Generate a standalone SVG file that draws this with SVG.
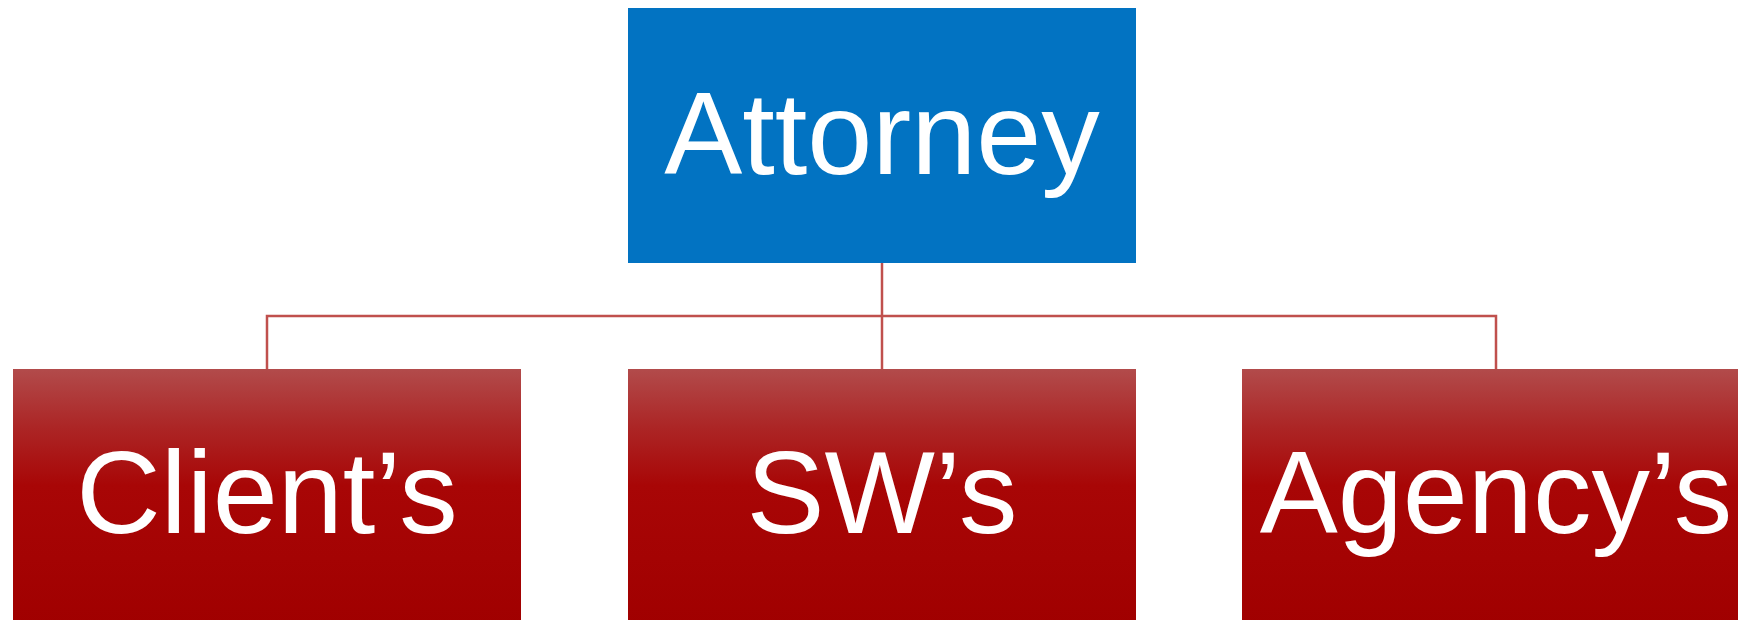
<svg xmlns="http://www.w3.org/2000/svg" width="1738" height="620" viewBox="0 0 1738 620">
<defs>
<linearGradient id="redGrad" x1="0" y1="0" x2="0" y2="1">
<stop offset="0" stop-color="#B24B4B"/>
<stop offset="0.22" stop-color="#AC2626"/>
<stop offset="0.45" stop-color="#A80606"/>
<stop offset="1" stop-color="#A00000"/>
</linearGradient>
<style>
.lbl{font-family:"Liberation Sans",Arial,sans-serif;font-size:117px;fill:#FFFFFF;text-anchor:middle}
.conn{fill:none;stroke:#C0504D;stroke-width:2.5}
.red{fill:url(#redGrad)}
</style>
</defs>
<rect width="1738" height="620" fill="#FFFFFF"/>
<g id="connectors">
<path class="conn" d="M882 262 V369"/>
<path class="conn" d="M267 369 V316 H1496 V369"/>
</g>
<g id="attorney">
<rect x="628" y="8" width="508" height="255" fill="#0273C2"/>
<text class="lbl" x="882" y="174">Attorney</text>
</g>
<g id="clients">
<rect class="red" x="13" y="369" width="508" height="260"/>
<text class="lbl" x="267" y="533">Client’s</text>
</g>
<g id="sws">
<rect class="red" x="628" y="369" width="508" height="260"/>
<text class="lbl" x="882" y="533">SW’s</text>
</g>
<g id="agencys">
<rect class="red" x="1242" y="369" width="508" height="260"/>
<text class="lbl" x="1496" y="533">Agency’s</text>
</g>
</svg>
